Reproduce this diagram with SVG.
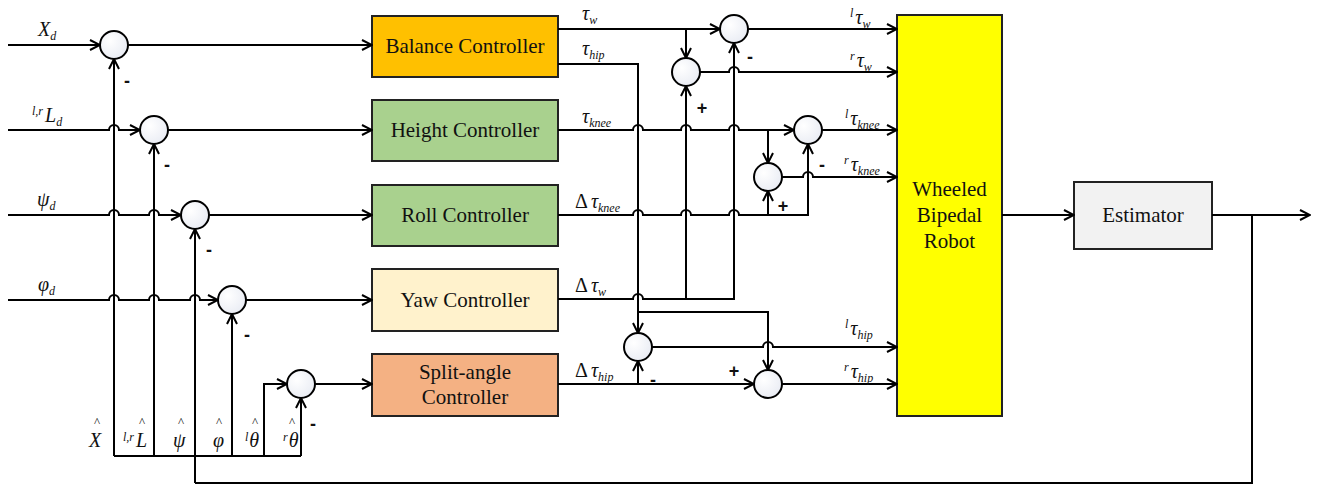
<svg xmlns="http://www.w3.org/2000/svg" width="1322" height="489" viewBox="0 0 1322 489">
  <defs>
    <marker id="arr" viewBox="0 0 12 12" refX="11" refY="6" markerWidth="12" markerHeight="12" markerUnits="userSpaceOnUse" orient="auto">
      <path d="M1,1 L11,6 L1,11" fill="none" stroke="#000" stroke-width="2"/>
    </marker>
    <radialGradient id="sumFill" cx="0.35" cy="0.35" r="0.75">
      <stop offset="0" stop-color="#ffffff"/>
      <stop offset="1" stop-color="#e8ebf3"/>
    </radialGradient>
  </defs>
  <style>
    .wire { fill: none; stroke: #000; stroke-width: 2; }
    .arrow { marker-end: url(#arr); }
    .sum { fill: url(#sumFill); stroke: #000; stroke-width: 2; }
    .box { stroke: #222; stroke-width: 2; }
    .lbl { font-size: 21px; fill: #111; text-anchor: middle; }
    .math { font-style: italic; font-size: 20px; fill: #111; }
    .sub { font-size: 12px; }
    .hat { font-size: 13px; fill: #111; text-anchor: middle; }
    .sign { font-size: 18px; font-weight: bold; fill: #111; text-anchor: middle; }
  </style>
  <rect width="1322" height="489" fill="#fff"/>

  <!-- controller blocks -->
  <g id="balance">
    <rect class="box" x="372" y="16" width="186" height="61" fill="#FFC000"/>
    <text class="lbl" font-family="'Liberation Serif', 'Times New Roman', serif" x="465" y="53">Balance Controller</text>
  </g>
  <g id="height">
    <rect class="box" x="372" y="100" width="186" height="61" fill="#A9D18E"/>
    <text class="lbl" font-family="'Liberation Serif', 'Times New Roman', serif" x="465" y="137">Height Controller</text>
  </g>
  <g id="roll">
    <rect class="box" x="372" y="185" width="186" height="61" fill="#A9D18E"/>
    <text class="lbl" font-family="'Liberation Serif', 'Times New Roman', serif" x="465" y="222">Roll Controller</text>
  </g>
  <g id="yaw">
    <rect class="box" x="372" y="269" width="186" height="62" fill="#FFF2CC"/>
    <text class="lbl" font-family="'Liberation Serif', 'Times New Roman', serif" x="465" y="307">Yaw Controller</text>
  </g>
  <g id="split">
    <rect class="box" x="372" y="354" width="186" height="62" fill="#F4B183"/>
    <text class="lbl" font-family="'Liberation Serif', 'Times New Roman', serif" x="465" y="379">Split-angle</text>
    <text class="lbl" font-family="'Liberation Serif', 'Times New Roman', serif" x="465" y="404">Controller</text>
  </g>
  <g id="robot">
    <rect class="box" x="897" y="15" width="105" height="401" fill="#FFFF00"/>
    <text class="lbl" font-family="'Liberation Serif', 'Times New Roman', serif" x="949.5" y="196">Wheeled</text>
    <text class="lbl" font-family="'Liberation Serif', 'Times New Roman', serif" x="949.5" y="222">Bipedal</text>
    <text class="lbl" font-family="'Liberation Serif', 'Times New Roman', serif" x="949.5" y="248">Robot</text>
  </g>
  <g id="estimator">
    <rect class="box" x="1074" y="182" width="138" height="67" fill="#F2F2F2"/>
    <text class="lbl" font-family="'Liberation Serif', 'Times New Roman', serif" x="1143" y="222">Estimator</text>
  </g>

  <!-- connectors -->
  <g id="connectors">
    <!-- reference inputs -->
    <path class="wire arrow" d="M8,45 H100"/>
    <path class="wire arrow" d="M8,130 H109 a5,5 0 0 1 10,0 H140"/>
    <path class="wire arrow" d="M8,215 H109 a5,5 0 0 1 10,0 H149 a5,5 0 0 1 10,0 H181"/>
    <path class="wire arrow" d="M8,300 H109 a5,5 0 0 1 10,0 H149 a5,5 0 0 1 10,0 H190 a5,5 0 0 1 10,0 H218"/>
    <!-- error signals into controllers -->
    <path class="wire arrow" d="M128,45 H372"/>
    <path class="wire arrow" d="M168,130 H372"/>
    <path class="wire arrow" d="M209,215 H372"/>
    <path class="wire arrow" d="M246,300 H372"/>
    <path class="wire arrow" d="M315,384 H372"/>
    <!-- state feedback -->
    <path class="wire" d="M114,456 H301"/>
    <path class="wire arrow" d="M114,456 V59"/>
    <path class="wire arrow" d="M154,456 V144"/>
    <path class="wire arrow" d="M195,483 V229"/>
    <path class="wire arrow" d="M232,456 V314"/>
    <path class="wire arrow" d="M301,456 V398"/>
    <path class="wire arrow" d="M264,456 V384 H287"/>
    <path class="wire" d="M1252,215 V483 H195"/>

    <!-- wheel torque mixing -->
    <path class="wire arrow" d="M558,29 H720"/>
    <path class="wire arrow" d="M686,29 V58"/>
    <path class="wire arrow" d="M748,29 H897"/>
    <path class="wire arrow" d="M700,72 H729 a5,5 0 0 1 10,0 H897"/>
    <path class="wire arrow" d="M558,299 H633 a5,5 0 0 1 10,0 H734 V43"/>
    <path class="wire arrow" d="M686,299 V86"/>

    <!-- knee torque mixing -->
    <path class="wire arrow" d="M558,130 H633 a5,5 0 0 1 10,0 H681 a5,5 0 0 1 10,0 H729 a5,5 0 0 1 10,0 H794"/>
    <path class="wire arrow" d="M768,130 V163"/>
    <path class="wire arrow" d="M822,130 H897"/>
    <path class="wire arrow" d="M782,177 H803 a5,5 0 0 1 10,0 H897"/>
    <path class="wire arrow" d="M558,215 H633 a5,5 0 0 1 10,0 H681 a5,5 0 0 1 10,0 H729 a5,5 0 0 1 10,0 H808 V144"/>
    <path class="wire arrow" d="M768,215 V191"/>

    <!-- hip torque mixing -->
    <path class="wire arrow" d="M558,64 H638 V333"/>
    <path class="wire arrow" d="M638,312 H768 V370"/>
    <path class="wire arrow" d="M652,347 H763 a5,5 0 0 1 10,0 H897"/>
    <path class="wire arrow" d="M558,384 H754"/>
    <path class="wire arrow" d="M638,384 V361"/>
    <path class="wire arrow" d="M782,384 H897"/>

    <!-- plant and estimator -->
    <path class="wire arrow" d="M1002,215 H1074"/>
    <path class="wire arrow" d="M1212,215 H1310"/>
  </g>

  <!-- summing junctions -->
  <g id="sum-x"><circle class="sum" cx="114" cy="45" r="14"/></g>
  <g id="sum-l"><circle class="sum" cx="154" cy="130" r="14"/></g>
  <g id="sum-psi"><circle class="sum" cx="195" cy="215" r="14"/></g>
  <g id="sum-phi"><circle class="sum" cx="232" cy="300" r="14"/></g>
  <g id="sum-theta"><circle class="sum" cx="301" cy="384" r="14"/></g>
  <g id="sum-lw"><circle class="sum" cx="734" cy="29" r="14"/></g>
  <g id="sum-rw"><circle class="sum" cx="686" cy="72" r="14"/></g>
  <g id="sum-lknee"><circle class="sum" cx="808" cy="130" r="14"/></g>
  <g id="sum-rknee"><circle class="sum" cx="768" cy="177" r="14"/></g>
  <g id="sum-lhip"><circle class="sum" cx="638" cy="347" r="14"/></g>
  <g id="sum-rhip"><circle class="sum" cx="768" cy="384" r="14"/></g>

  <!-- signs -->
  <g id="signs" font-family="'Liberation Sans', Arial, sans-serif">
    <text class="sign" x="127" y="87">-</text>
    <text class="sign" x="167" y="171">-</text>
    <text class="sign" x="209" y="256">-</text>
    <text class="sign" x="247" y="341">-</text>
    <text class="sign" x="313" y="430">-</text>
    <text class="sign" x="750" y="63">-</text>
    <text class="sign" x="702" y="114">+</text>
    <text class="sign" x="822" y="171">-</text>
    <text class="sign" x="783" y="212">+</text>
    <text class="sign" x="734" y="377">+</text>
    <text class="sign" x="653" y="386">-</text>
  </g>

  <!-- reference input labels -->
  <g id="input-labels" font-family="'Liberation Serif', 'Times New Roman', serif">
    <text class="math" x="38" y="36">X<tspan class="sub" dy="4">d</tspan></text>
    <text class="math" x="32" y="122"><tspan class="sub" dy="-7">l,r</tspan><tspan dy="7" dx="2">L</tspan><tspan class="sub" dy="4">d</tspan></text>
    <text class="math" x="37" y="206">ψ<tspan class="sub" dy="4">d</tspan></text>
    <text class="math" x="38" y="291">φ<tspan class="sub" dy="4">d</tspan></text>
  </g>

  <!-- estimated state labels; each hat sits above its symbol -->
  <g id="state-labels" font-family="'Liberation Serif', 'Times New Roman', serif">
    <text class="math" x="89" y="447">X</text>
    <text class="math" x="123" y="447"><tspan class="sub" dy="-6">l,r</tspan><tspan dy="6" dx="2">L</tspan></text>
    <text class="math" x="173" y="447">ψ</text>
    <text class="math" x="213" y="447">φ</text>
    <text class="math" x="245" y="447"><tspan class="sub" dy="-6">l</tspan><tspan dy="6" dx="1">θ</tspan></text>
    <text class="math" x="283" y="447"><tspan class="sub" dy="-6">r</tspan><tspan dy="6" dx="1">θ</tspan></text>
  </g>
  <g id="state-hats" font-family="'Liberation Serif', 'Times New Roman', serif">
    <text class="hat" x="97" y="426">^</text>
    <text class="hat" x="142" y="426">^</text>
    <text class="hat" x="181" y="426">^</text>
    <text class="hat" x="219" y="426">^</text>
    <text class="hat" x="255" y="426">^</text>
    <text class="hat" x="292" y="426">^</text>
  </g>

  <!-- controller output labels -->
  <g id="output-labels" font-family="'Liberation Serif', 'Times New Roman', serif">
    <text class="math" x="582" y="20">τ<tspan class="sub" dy="4">w</tspan></text>
    <text class="math" x="582" y="55">τ<tspan class="sub" dy="4">hip</tspan></text>
    <text class="math" x="582" y="123">τ<tspan class="sub" dy="4">knee</tspan></text>
    <text class="math" x="575" y="208"><tspan font-style="normal">Δ</tspan><tspan dx="3">τ</tspan><tspan class="sub" dy="4">knee</tspan></text>
    <text class="math" x="575" y="292"><tspan font-style="normal">Δ</tspan><tspan dx="3">τ</tspan><tspan class="sub" dy="4">w</tspan></text>
    <text class="math" x="575" y="377"><tspan font-style="normal">Δ</tspan><tspan dx="3">τ</tspan><tspan class="sub" dy="4">hip</tspan></text>
  </g>

  <!-- plant input labels -->
  <g id="plant-labels" font-family="'Liberation Serif', 'Times New Roman', serif">
    <text class="math" x="850" y="24"><tspan class="sub" dy="-7">l</tspan><tspan dy="7" dx="2">τ</tspan><tspan class="sub" dy="4">w</tspan></text>
    <text class="math" x="850" y="67"><tspan class="sub" dy="-7">r</tspan><tspan dy="7" dx="2">τ</tspan><tspan class="sub" dy="4">w</tspan></text>
    <text class="math" x="845" y="125"><tspan class="sub" dy="-7">l</tspan><tspan dy="7" dx="2">τ</tspan><tspan class="sub" dy="4">knee</tspan></text>
    <text class="math" x="844" y="171"><tspan class="sub" dy="-7">r</tspan><tspan dy="7" dx="2">τ</tspan><tspan class="sub" dy="4">knee</tspan></text>
    <text class="math" x="845" y="335"><tspan class="sub" dy="-7">l</tspan><tspan dy="7" dx="2">τ</tspan><tspan class="sub" dy="4">hip</tspan></text>
    <text class="math" x="844" y="378"><tspan class="sub" dy="-7">r</tspan><tspan dy="7" dx="2">τ</tspan><tspan class="sub" dy="4">hip</tspan></text>
  </g>
</svg>
